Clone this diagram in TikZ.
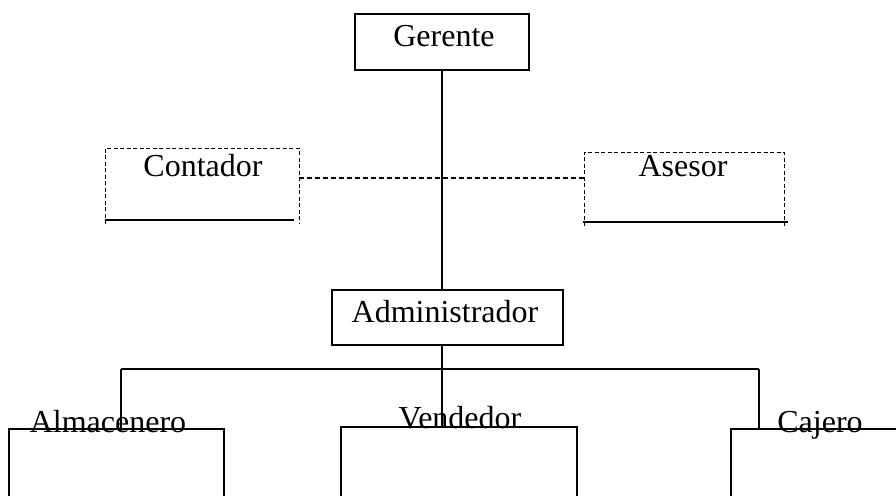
\documentclass[tikz,border=0pt]{standalone}
\usepackage{fontspec}
\setmainfont{Liberation Serif}
\begin{document}
\begin{tikzpicture}[x=1pt,y=-1pt,
  box/.style={draw, line width=1.4pt, inner sep=0pt, outer sep=0pt, anchor=north west},
  sbox/.style={inner sep=0pt, outer sep=0pt, anchor=north west},
  dline/.style={line width=1pt, dash pattern=on 4pt off 2.5pt},
  lbl/.style={inner sep=0pt, anchor=base, font=\fontsize{32}{38}\selectfont},
  conn/.style={line width=1.4pt},
  dconn/.style={line width=1.2pt, dash pattern=on 5pt off 3pt}
]
\useasboundingbox (0,0) rectangle (896,495);
\clip (0,0) rectangle (896,495);
\fill[white] (0,0) rectangle (896,495);

% boxes
\node[box, minimum width=174pt, minimum height=56pt] (ger) at (355,14) {};
\node[sbox, minimum width=194pt, minimum height=76pt] (con) at (105,148) {};
\node[sbox, minimum width=200pt, minimum height=74pt] (ase) at (584,152) {};
\node[box, minimum width=231pt, minimum height=55pt] (adm) at (332,290) {};
\node[box, minimum width=215pt, minimum height=120pt] (alm) at (9,429) {};
\node[box, minimum width=236pt, minimum height=120pt] (ven) at (341,427) {};
\node[box, minimum width=220pt, minimum height=120pt] (caj) at (731,429) {};

% dashed staff boxes, open at the bottom
\draw[dline] (con.south west) |- (con.north east) -- (con.south east);
\draw[dline] (ase.south west) |- (ase.north east) -- (ase.south east);

% solid base lines of staff boxes
\coordinate (cb1) at (105,220);
\coordinate (cb2) at (294,220);
\coordinate (ab1) at (583,222);
\coordinate (ab2) at (788,222);
\draw[conn] (cb1) -- (cb2);
\draw[conn] (ab1) -- (ab2);

% connectors
\coordinate (vx) at (442,0);
\coordinate (busL) at (121,369);
\coordinate (busR) at (759,369);
\coordinate (bus) at (442,369);
\coordinate (stl) at (299,178);
\coordinate (str) at (584,178);
\draw[conn] (vx |- ger.south) -- (vx |- adm.north);
\draw[conn] (vx |- adm.south) -- (bus);
\draw[conn] (busL) -- (busR);
\draw[conn] (busL) -- (busL |- alm.north);
\draw[conn] (bus) -- (bus |- ven.north);
\draw[conn] (busR) -- (busR |- caj.north);
\draw[dconn] (stl) -- (str);

% labels
\node[lbl] (tger) at (444,47) {Gerente};
\node[lbl] (tcon) at (203,176) {Contador};
\node[lbl] (tase) at (683,176) {Asesor};
\node[lbl] (tadm) at (445,322) {Administrador};
\node[lbl] (talm) at (108,432) {Almacenero};
\node[lbl] (tven) at (460,428) {Vendedor};
\node[lbl] (tcaj) at (820,432) {Cajero};
\end{tikzpicture}
\end{document}
